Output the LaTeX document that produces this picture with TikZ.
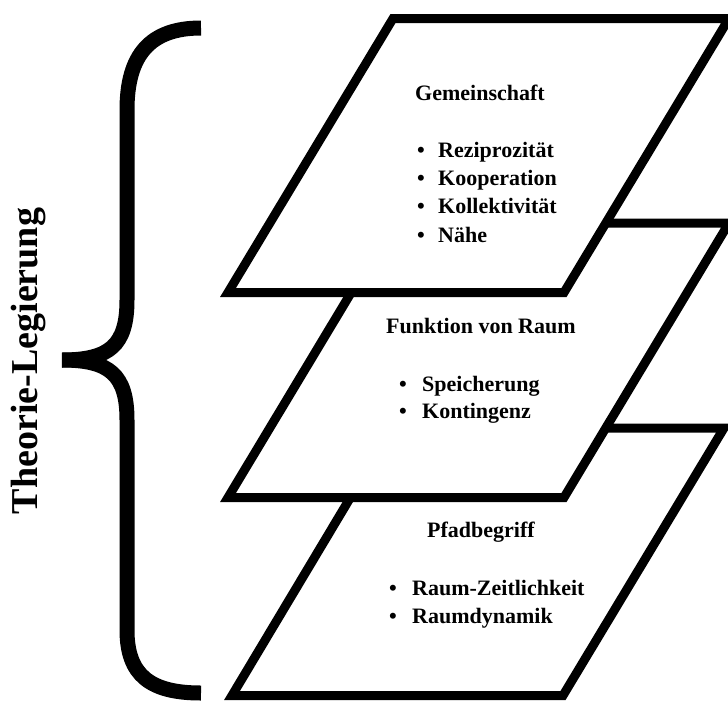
\documentclass[tikz,border=0pt]{standalone}
\usepackage{fontspec}
\setmainfont{Liberation Serif}
\begin{document}
\begin{tikzpicture}[x=1pt,y=-1pt,
  plane/.style={draw=black, fill=white, line width=9pt, line join=miter},
  brace/.style={draw=black, line width=15pt, line cap=butt},
  txt/.style={anchor=base west, inner sep=0pt, font=\fontsize{22}{26}\selectfont\bfseries},
  dot/.style={anchor=base, inner sep=0pt, font=\fontsize{22}{26}\selectfont\bfseries},
  side/.style={rotate=90, anchor=base, inner sep=0pt, font=\fontsize{38}{42}\selectfont\bfseries}]
\useasboundingbox (0,0) rectangle (728,702);
\clip (0,0) rectangle (728,702);
\fill[white] (0,0) rectangle (728,702);

% planes, bottom first
\draw[plane] (232,695.5) -- (563,695.5) -- (724,428) -- (392,428) -- cycle;
\draw[plane] (228,497.5) -- (564,497.5) -- (729,223) -- (393,223) -- cycle;
\draw[plane] (228,292.5) -- (564,292.5) -- (729,18.5) -- (393,18.5) -- cycle;

% brace
\coordinate (btop) at (201,28);
\coordinate (btip) at (62,360);
\coordinate (bbot) at (201,693);
\draw[brace] (btop) .. controls (150,28) and (127,55) .. (127,110) -- (127,300)
  .. controls (127,345) and (110,360) .. (btip);
\draw[brace] (btip) .. controls (110,360) and (127,375) .. (127,420) -- (127,630)
  .. controls (127,675) and (150,693) .. (bbot);

\node[side] (theo) at (37,361) {Theorie-Legierung};

% top plane text
\node[txt] (t1) at (415,100) {Gemeinschaft};
\node[dot] (d11) at (421,157) {•};
\node[txt] (t11) at (438,157) {Reziprozität};
\node[dot] (d12) at (421,185) {•};
\node[txt] (t12) at (438,185) {Kooperation};
\node[dot] (d13) at (421,213) {•};
\node[txt] (t13) at (438,213) {Kollektivität};
\node[dot] (d14) at (421,242) {•};
\node[txt] (t14) at (438,242) {Nähe};

% middle plane text
\node[txt] (t2) at (386,333) {Funktion von Raum};
\node[dot] (d21) at (403,391) {•};
\node[txt] (t21) at (422,391) {Speicherung};
\node[dot] (d22) at (403,418) {•};
\node[txt] (t22) at (422,418) {Kontingenz};

% bottom plane text
\node[txt] (t3) at (427,537) {Pfadbegriff};
\node[dot] (d31) at (393,595) {•};
\node[txt] (t31) at (412,595) {Raum-Zeitlichkeit};
\node[dot] (d32) at (393,623) {•};
\node[txt] (t32) at (412,623) {Raumdynamik};
\end{tikzpicture}
\end{document}
